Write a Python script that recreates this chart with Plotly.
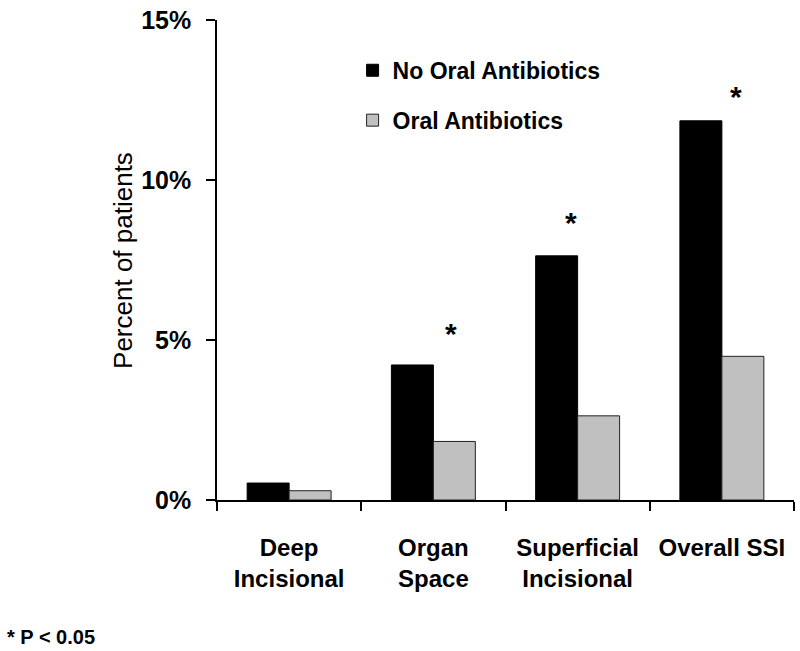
import plotly.graph_objects as go

categories = ["Deep<br>Incisional", "Organ<br>Space", "Superficial<br>Incisional", "Overall SSI"]
no_oral = [0.53, 4.22, 7.63, 11.85]
oral = [0.29, 1.83, 2.63, 4.49]
star_cats = ["Organ<br>Space", "Superficial<br>Incisional", "Overall SSI"]
star_y = [5.2, 8.66, 12.6]
star_shift = [18, -7, 14]
y_ticks = [0, 5, 10, 15]
y_ticktext = ["0%", "5%", "10%", "15%"]

FONT = "Liberation Sans, Arial, sans-serif"

fig = go.Figure()
fig.add_trace(go.Bar(x=categories, y=no_oral, name="No Oral Antibiotics",
                     marker=dict(color="#000000", line=dict(color="#000000", width=1)),
                     legendgroup="a"))
fig.add_trace(go.Bar(x=categories, y=oral, name="Oral Antibiotics",
                     marker=dict(color="#C0C0C0", line=dict(color="#222222", width=1)),
                     legendgroup="b"))

for c, y, s in zip(star_cats, star_y, star_shift):
    fig.add_annotation(x=c, y=y, text="*", showarrow=False, xshift=s,
                       font=dict(family=FONT, size=30, color="black", weight="bold"),
                       xanchor="center", yanchor="middle")

fig.add_annotation(xref="paper", yref="paper", x=-0.163, y=0.5, text="Percent of patients",
                   textangle=-90, showarrow=False, xanchor="center", yanchor="middle",
                   font=dict(family=FONT, size=26, color="black"))
fig.add_annotation(xref="paper", yref="paper", x=-0.367, y=-0.286, text="* P < 0.05",
                   showarrow=False, xanchor="left", yanchor="middle",
                   font=dict(family=FONT, size=20, color="black", weight="bold"))

fig.update_layout(
    width=800, height=651,
    margin=dict(l=217, r=6, t=15, b=151),
    paper_bgcolor="white", plot_bgcolor="white",
    barmode="group", bargap=0.418, bargroupgap=0,
    showlegend=True,
    legend=dict(x=0.235, y=0.94, xanchor="left", yanchor="top",
                font=dict(family=FONT, size=23, color="black", weight="bold"),
                traceorder="grouped", tracegroupgap=17, bgcolor="rgba(0,0,0,0)"),
    xaxis=dict(showline=True, linecolor="black", linewidth=1.5, ticks="outside",
               tickson="boundaries", ticklen=9, tickcolor="black", tickwidth=1.5,
               showgrid=False, range=[-0.5, 3.5], ticklabelstandoff=25,
               tickfont=dict(family=FONT, size=24, color="black", weight="bold")),
    yaxis=dict(showline=True, linecolor="black", linewidth=1.5, ticks="outside",
               ticklen=9, tickcolor="black", tickwidth=1.5, showgrid=False, zeroline=False,
               range=[0, 15], tickvals=y_ticks, ticktext=y_ticktext, ticklabelstandoff=10,
               tickfont=dict(family=FONT, size=25, color="black", weight="bold")),
)

fig.write_html("out.html", config={"displayModeBar": False},
               post_script="document.body.style.margin='0';document.body.style.overflow='hidden';")
